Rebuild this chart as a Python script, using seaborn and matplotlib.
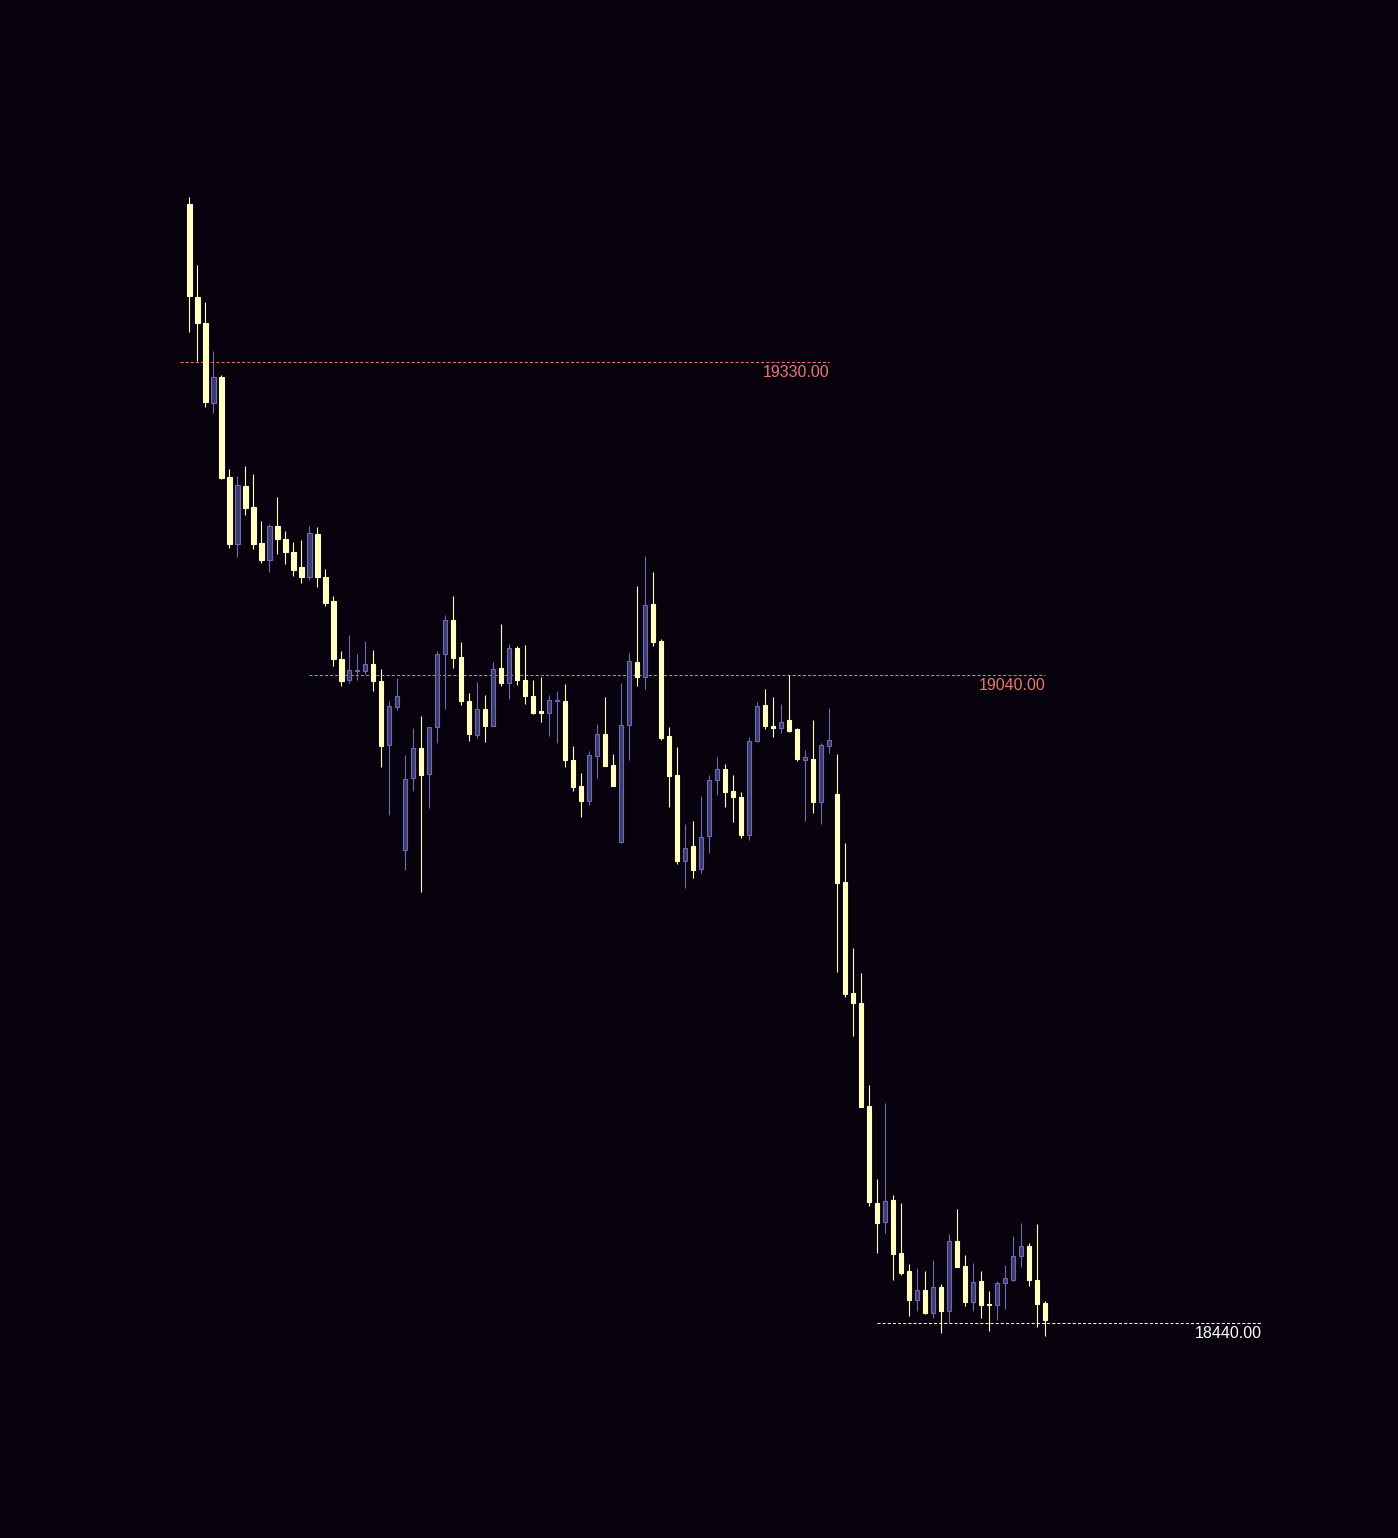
import numpy as np
import pandas as pd
import matplotlib
matplotlib.use("Agg")
import matplotlib.pyplot as plt
import seaborn as sns

# OHLC values, one entry per bar
opens = [19477, 19390, 19366, 19292, 19316, 19224, 19162, 19215, 19196, 19163,
         19147, 19178, 19166, 19154, 19140, 19131, 19171, 19131, 19109, 19055,
         19036, 19044, 19044, 19051, 19035, 18976, 19011, 18878, 18945, 18973,
         18949, 18992, 19060, 19091, 19057, 19016, 18985, 19009, 18993, 19047,
         19033, 19065, 19036, 19021, 19007, 19005, 19016, 19016, 18962, 18938,
         18924, 18965, 18986, 18957, 18886, 18994, 19052, 19039, 19106, 19072,
         18984, 18948, 18868, 18882, 18861, 18891, 18943, 18953, 18933, 18927,
         18892, 18979, 19013, 18993, 18991, 18999, 18990, 18962, 18963, 18923,
         18975, 18930, 18849, 18746, 18737, 18641, 18551, 18534, 18554, 18505,
         18488, 18462, 18471, 18450, 18474, 18451, 18516, 18493, 18460, 18479,
         18458, 18457, 18477, 18480, 18502, 18512, 18480, 18459]
highs = [19483, 19420, 19386, 19340, 19318, 19231, 19225, 19234, 19227, 19183,
         19180, 19205, 19174, 19164, 19165, 19178, 19177, 19139, 19114, 19063,
         19077, 19060, 19072, 19064, 19046, 19016, 19038, 18966, 18991, 19002,
         18992, 19063, 19096, 19114, 19071, 19024, 19034, 19022, 19052, 19088,
         19069, 19067, 19068, 19036, 19039, 19022, 19026, 19032, 18975, 18950,
         18970, 18995, 19020, 18967, 19033, 19061, 19123, 19151, 19136, 19074,
         18992, 18974, 18902, 18905, 18928, 18948, 18964, 18958, 18948, 18932,
         18983, 19015, 19027, 19020, 19014, 19040, 18991, 18971, 18999, 18977,
         19010, 18967, 18885, 18788, 18764, 18661, 18574, 18644, 18559, 18551,
         18495, 18491, 18488, 18499, 18476, 18523, 18546, 18503, 18496, 18488,
         18470, 18479, 18494, 18521, 18533, 18514, 18532, 18461]
lows = [19358, 19331, 19289, 19283, 19222, 19158, 19150, 19189, 19157, 19144,
        19136, 19152, 19143, 19132, 19126, 19128, 19122, 19104, 19049, 19030,
        19033, 19036, 19041, 19026, 18955, 18911, 19008, 18860, 18933, 18839,
        18917, 18977, 19009, 19047, 19013, 18979, 18982, 18978, 18993, 19030,
        19018, 19031, 19014, 19004, 18997, 18984, 18977, 18955, 18933, 18909,
        18920, 18945, 18956, 18938, 18885, 18962, 19030, 19027, 19067, 18980,
        18918, 18865, 18843, 18852, 18857, 18876, 18929, 18918, 18904, 18889,
        18888, 18978, 18990, 18983, 18987, 18988, 18961, 18905, 18913, 18902,
        18968, 18765, 18742, 18706, 18640, 18549, 18505, 18524, 18480, 18485,
        18447, 18451, 18449, 18445, 18431, 18440, 18492, 18456, 18451, 18445,
        18433, 18443, 18453, 18479, 18492, 18475, 18437, 18428]
closes = [19391, 19366, 19293, 19316, 19223, 19162, 19216, 19195, 19162, 19147,
          19178, 19166, 19154, 19138, 19131, 19172, 19131, 19107, 19055, 19035,
          19045, 19045, 19051, 19035, 18975, 19012, 19021, 18944, 18973, 18948,
          18992, 19060, 19091, 19056, 19016, 18986, 19009, 18993, 19046, 19033,
          19065, 19036, 19021, 19005, 19005, 19017, 19017, 18962, 18937, 18924,
          18966, 18986, 18956, 18938, 18994, 19053, 19039, 19105, 19071, 18982,
          18947, 18868, 18880, 18860, 18890, 18943, 18953, 18932, 18927, 18892,
          18979, 19012, 18993, 18991, 18997, 18989, 18963, 18964, 18923, 18976,
          18980, 18848, 18745, 18737, 18640, 18552, 18533, 18553, 18504, 18487,
          18462, 18471, 18450, 18474, 18451, 18516, 18492, 18460, 18478, 18457,
          18457, 18477, 18482, 18502, 18512, 18480, 18458, 18443]

# horizontal price levels
level_prices = [19330, 19040, 18440]
level_labels = ["19330.00", "19040.00", "18440.00"]

bg = "#08020f"
up_fill = "#3b3b6c"
up_edge = "#6b6bae"
down_col = "#ffffc2"

sns.set_theme(style="dark", rc={"axes.facecolor": bg, "figure.facecolor": bg,
                                "lines.scale_dashes": False})
plt.rcParams["font.family"] = ["Liberation Sans", "DejaVu Sans"]

df = pd.DataFrame({"open": opens, "high": highs, "low": lows, "close": closes})
df["x"] = np.arange(len(df))
df["bottom"] = df[["open", "close"]].min(axis=1)
df["height"] = (df["close"] - df["open"]).abs()
up = df["close"] > df["open"]

fig = plt.figure(figsize=(13.98, 15.38), dpi=100)
ax = fig.add_axes([0, 0, 1, 1])

# wicks
ax.vlines(df.loc[up, "x"], df.loc[up, "low"], df.loc[up, "high"], color=up_edge, lw=0.8, zorder=2)
ax.vlines(df.loc[~up, "x"], df.loc[~up, "low"], df.loc[~up, "high"], color=down_col, lw=0.8, zorder=2)

# bodies
ax.bar(df.loc[up, "x"], df.loc[up, "height"], bottom=df.loc[up, "bottom"], width=0.56,
       color=up_fill, edgecolor=up_edge, linewidth=0.8, zorder=3)
ax.bar(df.loc[~up, "x"], df.loc[~up, "height"], bottom=df.loc[~up, "bottom"], width=0.56,
       color=down_col, edgecolor=down_col, linewidth=0.8, zorder=3)

# level lines with labels at their right end
spans = [(-1.2, 80.0), (15.0, 107.0), (86.0, 134.1)]
line_cols = ["#e8756a", "#c98585", "#ffffff"]
text_cols = ["#e8786c", "#e8786c", "#ffffff"]
for price, lab, (x0, x1), lc, tc in zip(level_prices, level_labels, spans, line_cols, text_cols):
    ax.hlines(price, x0, x1, colors=lc, lw=0.75, linestyles=(0, (2.2, 1.5)), zorder=1)
    ax.annotate(lab, xy=(x1, price), xytext=(0, -3), textcoords="offset pixels",
                ha="right", va="top", color=tc, fontsize=11.5)

ax.set_xlim(-23.66, 151.1)
ax.set_ylim(18241.2, 19665.5)
ax.axis("off")

fig.savefig("out.png", dpi=100, facecolor=bg)
